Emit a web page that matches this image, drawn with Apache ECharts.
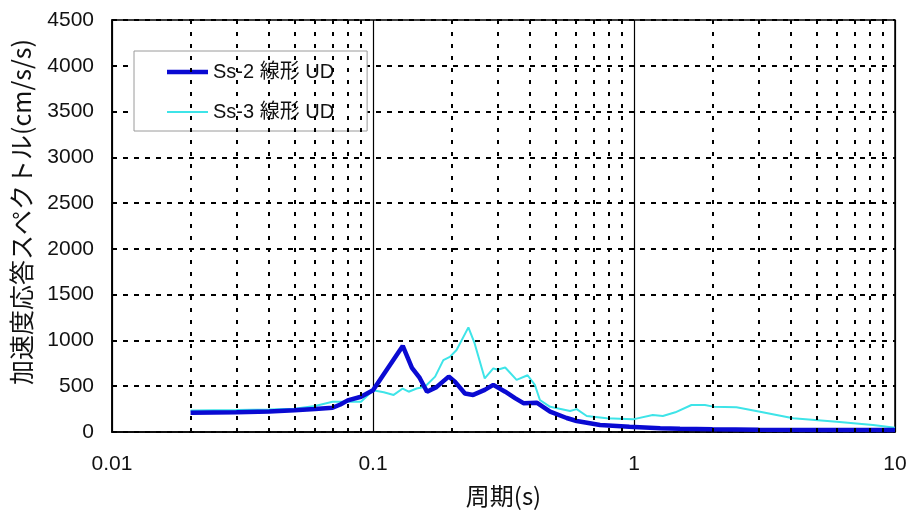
<!DOCTYPE html>
<html>
<head>
<meta charset="utf-8">
<script src="https://cdn.jsdelivr.net/npm/echarts@6/dist/echarts.min.js"></script>
<style>
html,body{margin:0;padding:0;background:#fff;}
#main{width:915px;height:515px;}
</style>
</head>
<body>
<div id="main"></div>
<script>
// 周期 (s) / 加速度応答スペクトル (cm/s/s)
var ss2Period = [0.02,0.03,0.04,0.05,0.06,0.07,0.075,0.08,0.09,0.1,0.13,0.141,0.151,0.161,0.175,0.195,0.206,0.225,0.242,0.268,0.289,0.321,0.35,0.377,0.424,0.477,0.552,0.603,0.741,0.96,1.26,1.5,2,3,5,10];
var ss2Accel  = [210,215,225,238,250,265,300,345,385,455,940,700,590,440,490,605,550,420,405,460,515,440,370,315,320,222,153,120,76,58,42,35,30,25,22,22];

var ss3Period = [0.02,0.03,0.04,0.05,0.06,0.07,0.08,0.09,0.1,0.11,0.12,0.13,0.137,0.147,0.158,0.173,0.186,0.197,0.209,0.232,0.245,0.268,0.289,0.3,0.321,0.355,0.391,0.417,0.436,0.477,0.569,0.603,0.659,0.786,0.99,1.18,1.29,1.44,1.66,1.87,2.01,2.47,3.04,4.07,5.98,8.24,10];
var ss3Accel  = [235,240,245,255,285,330,330,330,455,435,405,475,440,475,495,605,785,820,895,1143,970,585,695,680,705,570,620,515,350,275,230,250,175,150,138,185,175,215,295,295,277,270,222,150,112,76,47];

var seriesNames = ['Ss-2 線形 UD', 'Ss-3 線形 UD'];
var minorPeriods = [];
[0.01, 0.1, 1].forEach(function (d) {
    for (var k = 2; k <= 9; k++) minorPeriods.push(+(d * k).toFixed(3));
});

function pairs(xs, ys) {
    return xs.map(function (x, i) { return [x, ys[i]]; });
}

var chart = echarts.init(document.getElementById('main'));
var numFont = 'Liberation Sans, Arial, Noto Sans CJK JP';
var jpFont = 'Noto Sans CJK JP, Liberation Sans';

var option = {
    backgroundColor: '#fff',
    animation: false,
    grid: {left: 112, right: 20, top: 20, bottom: 83, show: true, borderColor: '#000', borderWidth: 1.5,
        containLabel: false, outerBoundsMode: 'none'},
    legend: {
        data: [
            {name: seriesNames[0], icon: 'path://M0,0H41V4.5H0Z'},
            {name: seriesNames[1], icon: 'path://M0,0H41V2H0Z'}
        ],
        left: 134, top: 51,
        orient: 'vertical',
        padding: [11, 33, 9, 33],
        itemGap: 20,
        itemWidth: 41, itemHeight: 14,
        backgroundColor: '#fff',
        borderColor: '#9a9a9a', borderWidth: 1,
        textStyle: {fontSize: 20, color: '#111', fontFamily: numFont, lineHeight: 20}
    },
    xAxis: {
        type: 'log', logBase: 10, min: 0.01, max: 10,
        name: '周期(s)', nameLocation: 'middle', nameGap: 52,
        nameTextStyle: {fontSize: 24, color: '#111', fontFamily: jpFont},
        axisLine: {show: true, lineStyle: {color: '#000', width: 1.5}},
        axisTick: {show: false},
        axisLabel: {fontSize: 21, color: '#111', margin: 22, fontFamily: numFont,
            formatter: function (v) { return String(+v.toPrecision(3)); }},
        splitLine: {show: true, lineStyle: {color: '#000', width: 1.2}},
        minorTick: {show: false}, minorSplitLine: {show: false}
    },
    yAxis: {
        type: 'value', min: 0, max: 4500, interval: 500,
        name: '加速度応答スペクトル(cm/s/s)', nameLocation: 'middle', nameGap: 78,
        nameTextStyle: {fontSize: 25, color: '#111', fontFamily: jpFont, padding: [0, 0, 0, 28]},
        axisLine: {show: true, lineStyle: {color: '#000', width: 1.5}},
        axisTick: {show: false},
        axisLabel: {fontSize: 21, color: '#111', margin: 18, fontFamily: numFont,
            formatter: function (v) { return String(v); }},
        splitLine: {show: true, lineStyle: {color: '#000', width: 1.8, type: [5, 6]}}
    },
    series: [
        {
            name: 'grid-minor', type: 'line', data: [], z: 1, silent: true,
            markLine: {
                silent: true, symbol: 'none', animation: false,
                label: {show: false},
                lineStyle: {color: '#000', width: 2, type: [4, 8]},
                data: minorPeriods.map(function (p) { return {xAxis: p}; })
            }
        },
        {
            name: seriesNames[1], type: 'line', z: 3, symbol: 'none',
            lineStyle: {color: '#3ee4e8', width: 2},
            itemStyle: {color: '#3ee4e8'},
            data: pairs(ss3Period, ss3Accel)
        },
        {
            name: seriesNames[0], type: 'line', z: 4, symbol: 'none',
            lineStyle: {color: '#0a0ad2', width: 4.5},
            itemStyle: {color: '#0a0ad2'},
            data: pairs(ss2Period, ss2Accel)
        }
    ]
};
chart.setOption(option);
</script>
</body>
</html>
